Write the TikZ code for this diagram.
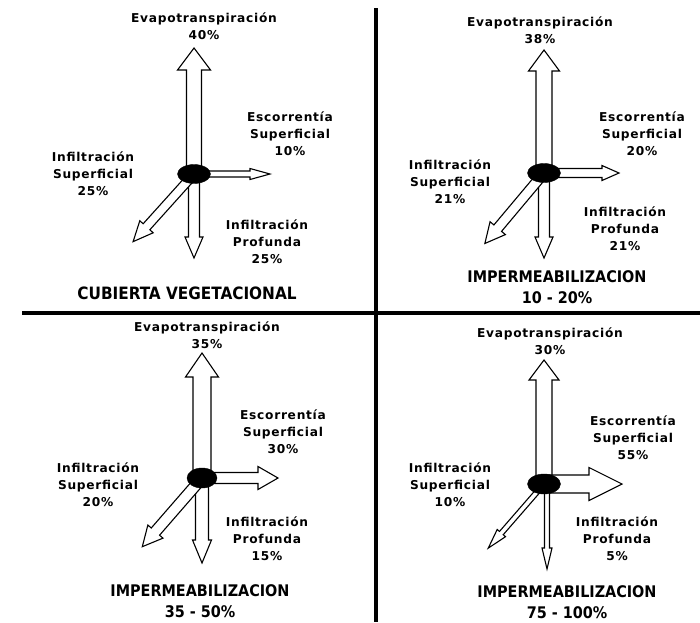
\documentclass[tikz,border=0pt]{standalone}
\usepackage{fontspec}
\setmainfont{DejaVu Sans}
\newfontfamily\labfont[LetterSpace=6]{DejaVu Sans}
\newfontfamily\ttlfont{DejaVu Sans Condensed}
\usetikzlibrary{shapes.geometric}
\tikzset{
  arrowbody/.style={draw=black, fill=white, line width=1.1pt, line join=miter},
  blob/.style={ellipse, fill=black, draw=black, minimum width=33pt, minimum height=19pt, inner sep=0pt},
  lab/.style={align=center, font=\labfont\bfseries\fontsize{12.2}{17}\selectfont, inner sep=0pt},
  ttl/.style={align=center, font=\ttlfont\bfseries\fontsize{16}{21}\selectfont, inner sep=0pt},
  divider/.style={line width=3.5pt, draw=black}
}
% #1 start, #2 angle, #3 length, #4 half shaft, #5 half head, #6 head length
\newcommand\fatarrow[6]{\draw[arrowbody, shift={(#1)}, rotate=#2]
  (0,#4) -- ({#3-#6},#4) -- ({#3-#6},#5) -- (#3,0) -- ({#3-#6},-#5) -- ({#3-#6},-#4) -- (0,-#4) -- cycle;}
\begin{document}
\begin{tikzpicture}[x=1pt,y=-1pt]
\useasboundingbox[fill=white] (0,0) rectangle (700,622);
% dividers
\coordinate (vt) at (376,8);
\coordinate (vb) at (376,622);
\coordinate (hl) at (22,313);
\coordinate (hr) at (700,313);
\draw[divider] (vt) -- (vb);
\draw[divider] (hl) -- (hr);

% ---------- Q1
\coordinate (c1) at (194,174);
\fatarrow{c1}{90}{126}{7.5}{16.5}{22}
\fatarrow{c1}{0}{76}{3}{5.5}{20}
\fatarrow{c1}{270}{84}{5.5}{9}{21}
\fatarrow{c1}{228}{91}{4.5}{9}{20}
\node[blob] (e1) at (c1) {};
\node[lab] (ev1) at (204,26) {Evapotranspiración\\40\%};
\node[lab] (es1) at (290,134) {Escorrentía\\Superficial\\10\%};
\node[lab] (is1) at (93,174) {Infiltración\\Superficial\\25\%};
\node[lab] (ip1) at (267,242) {Infiltración\\Profunda\\25\%};
\node[ttl, font=\ttlfont\bfseries\fontsize{17}{21}\selectfont] (t1) at (187,293) {CUBIERTA VEGETACIONAL};

% ---------- Q2
\coordinate (c2) at (544,173);
\fatarrow{c2}{90}{123}{8}{15.5}{21}
\fatarrow{c2}{0}{75}{4.5}{7.5}{17}
\fatarrow{c2}{270}{85}{5.5}{9}{21}
\fatarrow{c2}{230}{92}{5}{10}{20}
\node[blob] (e2) at (c2) {};
\node[lab] (ev2) at (540,30) {Evapotranspiración\\38\%};
\node[lab] (es2) at (642,134) {Escorrentía\\Superficial\\20\%};
\node[lab] (is2) at (450,182) {Infiltración\\Superficial\\21\%};
\node[lab] (ip2) at (625,229) {Infiltración\\Profunda\\21\%};
\node[ttl] (t2) at (557,287.5) {IMPERMEABILIZACION\\10 - 20\%};

% ---------- Q3
\coordinate (c3) at (202,478);
\fatarrow{c3}{90}{125}{9}{16.5}{24}
\fatarrow{c3}{0}{76}{5.5}{11.5}{20}
\fatarrow{c3}{270}{85}{6.5}{9.5}{23}
\fatarrow{c3}{229}{91}{5.5}{10}{20}
\node[blob, minimum width=30pt, minimum height=20pt] (e3) at (c3) {};
\node[lab] (ev3) at (207,335) {Evapotranspiración\\35\%};
\node[lab] (es3) at (283,432) {Escorrentía\\Superficial\\30\%};
\node[lab] (is3) at (98,485) {Infiltración\\Superficial\\20\%};
\node[lab] (ip3) at (267,539) {Infiltración\\Profunda\\15\%};
\node[ttl] (t3) at (200,601) {IMPERMEABILIZACION\\35 - 50\%};

% ---------- Q4
\coordinate (c4) at (544,484);
\coordinate (d4) at (547,484);
\fatarrow{c4}{90}{124}{8}{15}{20}
\fatarrow{c4}{0}{78}{9}{16.5}{33}
\fatarrow{d4}{270}{85}{2.5}{5}{21}
\fatarrow{c4}{229}{85}{2.5}{5.5}{20}
\node[blob, minimum height=20pt] (e4) at (c4) {};
\node[lab] (ev4) at (550,341.5) {Evapotranspiración\\30\%};
\node[lab] (es4) at (633,438) {Escorrentía\\Superficial\\55\%};
\node[lab] (is4) at (450,485) {Infiltración\\Superficial\\10\%};
\node[lab] (ip4) at (617,539) {Infiltración\\Profunda\\5\%};
\node[ttl] (t4) at (567,602) {IMPERMEABILIZACION\\75 - 100\%};
\end{tikzpicture}
\end{document}
